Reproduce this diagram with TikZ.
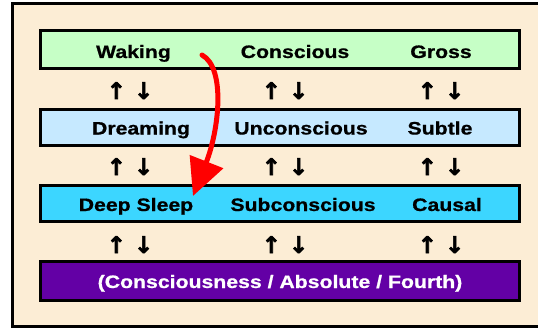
\documentclass[tikz,border=0pt]{standalone}
\usepackage{fontspec}
\setmainfont{Liberation Sans}[FakeStretch=1.18, BoldFeatures={FakeBold=0.8}]
\newfontfamily\arrowfont{DejaVu Sans}[FakeBold=2.5]
\usetikzlibrary{arrows.meta}
\definecolor{bgc}{RGB}{252,237,213}
\definecolor{greenc}{RGB}{198,255,198}
\definecolor{bluec}{RGB}{198,233,255}
\definecolor{cyanc}{RGB}{60,214,255}
\definecolor{purplec}{RGB}{99,0,165}
\definecolor{redc}{RGB}{255,0,0}
\tikzset{
  rowbox/.style={draw=black, line width=3pt, minimum width=479.5pt, inner sep=0pt},
  lbl/.style={font=\fontsize{18}{20}\selectfont\bfseries, inner sep=0pt, anchor=base},
  updown/.style={font=\arrowfont\fontsize{23}{24}\selectfont\bfseries, inner sep=0pt, anchor=base},
  redarrow/.style={draw=redc, line width=5pt, -{Triangle[width=35pt,length=37pt]}}
}
\begin{document}
\begin{tikzpicture}[x=1pt,y=-1pt]
\useasboundingbox (0,0) rectangle (538,329);
\begin{scope}
\clip (0,0) rectangle (538,329);
\draw[fill=bgc, line width=3pt] (12.5,3.5) rectangle (560,326.5);
\end{scope}
% rows
\node[rowbox, fill=greenc, minimum height=38pt] (r1) at (279.75,50) {};
\node[rowbox, fill=bluec, minimum height=36pt] (r2) at (279.75,127) {};
\node[rowbox, fill=cyanc, minimum height=36pt] (r3) at (279.75,203.5) {};
\node[rowbox, fill=purplec, minimum height=39pt] (r4) at (279.75,280.5) {};
% labels
\node[lbl] (waking) at (133.5,58) {Waking};
\node[lbl] (conscious) at (295,58) {Conscious};
\node[lbl] (gross) at (441,58) {Gross};
\node[lbl] (dreaming) at (141,134.5) {Dreaming};
\node[lbl] (uncon) at (301,134.5) {Unconscious};
\node[lbl] (subtle) at (440,134.5) {Subtle};
\node[lbl] (deep) at (136,211) {Deep Sleep};
\node[lbl] (subcon) at (303,211) {Subconscious};
\node[lbl] (causal) at (447,211) {Causal};
\node[lbl, text=white] (fourth) at (280,288) {(Consciousness / Absolute / Fourth)};
% up/down arrows
\foreach \r/\y in {1/99, 2/175, 3/253}{
  \node[updown] (ud\r a) at (130,\y) {↑ ↓};
  \node[updown] (ud\r b) at (285,\y) {↑ ↓};
  \node[updown] (ud\r c) at (441,\y) {↑ ↓};
}
% red curved arrow
\coordinate (rs) at (202,55);
\coordinate (re) at (193,196);
\draw[redarrow, line cap=round] (rs) .. controls (226,68) and (219,130) .. (re);
\end{tikzpicture}
\end{document}
